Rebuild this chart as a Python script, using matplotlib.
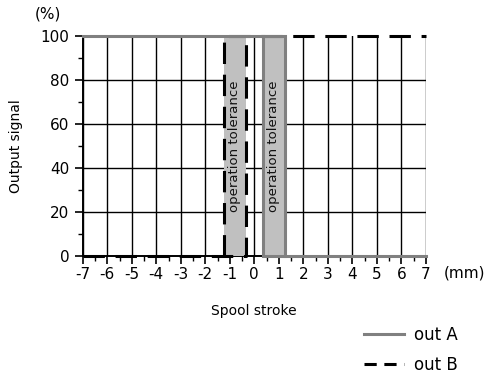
import numpy as np
import matplotlib.pyplot as plt
from matplotlib.lines import Line2D

plt.rcParams['font.family'] = 'DejaVu Sans'
plt.rcParams['axes.unicode_minus'] = False

# switching band limits (mm)
band_a = [0.35, 1.25]
band_b = [-1.25, -0.35]

# out A: high until the upper edge, low from the lower edge
a_high_x = [-7, 1.25, 1.25]
a_high_y = [100, 100, 0]
a_low_x = [0.35, 0.35, 7]
a_low_y = [100, 0, 0]

# out B: low until -0.35, high from -1.25
b_low_x = [-7, -0.35, -0.35]
b_low_y = [0, 0, 100]
b_high_x = [-1.25, -1.25, 7]
b_high_y = [0, 100, 100]

x_ticks = list(range(-7, 8))
y_ticks = [0, 20, 40, 60, 80, 100]

fig = plt.figure(figsize=(4.9, 3.76), dpi=100)
ax = fig.add_axes([0.169, 0.319, 0.700, 0.585])

# grid
for xv in x_ticks:
    ax.plot([xv, xv], [0, 100], color='black', lw=1.0, zorder=1)
for yv in y_ticks[1:-1]:
    ax.plot([-7, 7], [yv, yv], color='black', lw=1.0, zorder=1)

# tolerance bands
for band in (band_a, band_b):
    ax.axvspan(band[0], band[1], color='#c0c0c0', lw=0, zorder=2)
    ax.text(np.mean(band), 50, 'operation tolerance', rotation=90,
            ha='center', va='center', fontsize=9.5, color='#111111', zorder=6)

dash = dict(color='black', lw=2.2, dashes=(7, 3.5), zorder=3, clip_on=False)
ax.plot(b_low_x, b_low_y, **dash)
ax.plot(b_high_x, b_high_y, **dash)

solid = dict(color='#808080', lw=2.2, zorder=4, solid_joinstyle='miter', clip_on=False)
ax.plot(a_high_x, a_high_y, **solid)
ax.plot(a_low_x, a_low_y, **solid)

ax.set_xlim(-7, 7)
ax.set_ylim(0, 100)
ax.set_xticks(x_ticks)
ax.set_xticklabels([str(v) for v in x_ticks])
ax.set_xticks(np.arange(-6.5, 7, 1), minor=True)
ax.set_yticks(y_ticks)
ax.set_yticks([10, 30, 50, 70, 90], minor=True)
ax.tick_params(axis='both', which='major', length=6, width=1.2, labelsize=11,
               direction='out', color='black')
ax.tick_params(axis='both', which='minor', length=3.5, width=1.0, direction='out')
ax.tick_params(axis='x', pad=2)

for side in ('top', 'right'):
    ax.spines[side].set_visible(False)
for side in ('left', 'bottom'):
    ax.spines[side].set_linewidth(1.4)
    ax.spines[side].set_zorder(0.5)

ax.set_xlabel('Spool stroke', fontsize=10, labelpad=16)
ax.set_ylabel('Output signal', fontsize=10, labelpad=13)
fig.text(0.070, 0.962, '(%)', fontsize=11, va='center', ha='left')
fig.text(0.906, 0.274, '(mm)', fontsize=11, va='center', ha='left')

handles = [Line2D([], [], color='#808080', lw=2.2),
           Line2D([], [], color='black', lw=2.2, dashes=(4, 2.5))]
fig.legend(handles, ['out A', 'out B'], loc='lower right',
           bbox_to_anchor=(0.965, -0.035), frameon=False, fontsize=12,
           handlelength=2.4, handletextpad=0.6, labelspacing=0.75)

fig.savefig('out.png', dpi=100)
